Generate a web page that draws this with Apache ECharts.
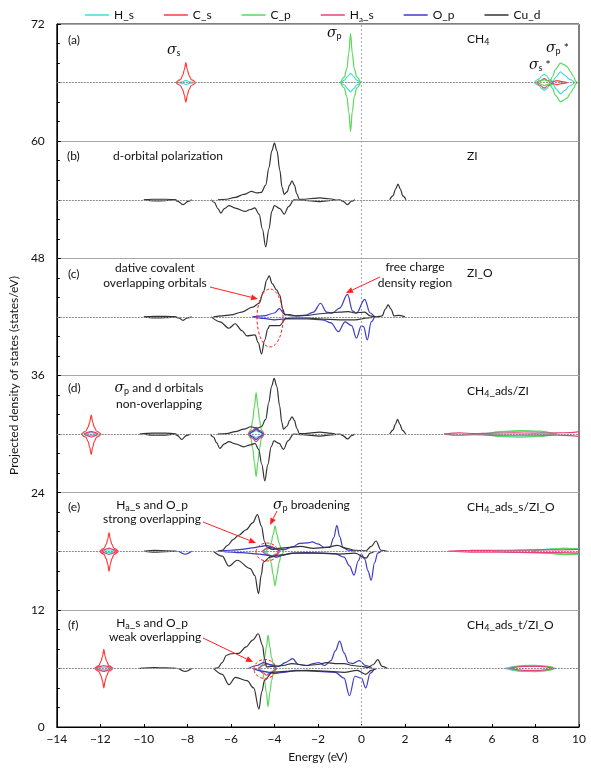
<!DOCTYPE html>
<html><head><meta charset="utf-8">
<script src="https://cdn.jsdelivr.net/npm/echarts@6/dist/echarts.min.js"></script>
<style>html,body{margin:0;padding:0;background:#fff}#c{width:591px;height:768px}</style>
</head><body><div id="c"></div>
<script>
// ---------- axis / labels ----------
const xTicks = [-14,-12,-10,-8,-6,-4,-2,0,2,4,6,8,10];
const yTicks = [0,12,24,36,48,60,72];
const orbitals = ['H_s','C_s','C_p','Ha_s','O_p','Cu_d'];
const panelOffsets = [66,54,42,30,18,6];

// ---------- panel (a) CH4 ----------
const a_Hs_up = [[-8.4,0],[-8.22,0.08],[-8.07,0.22],[-7.92,0.08],[-7.74,0],null,
 [-0.95,0],[-0.78,0.25],[-0.63,0.65],[-0.5,0.95],[-0.37,0.65],[-0.22,0.25],[-0.05,0],null,
 [7.95,0],[8.15,0.35],[8.3,0.7],[8.4,0.86],[8.5,0.7],[8.65,0.3],[8.8,0.15],[8.95,0.6],[9.15,1.1],[9.35,0.75],[9.55,0.35],[9.8,0]];
const a_Hs_dn = [[-8.4,0],[-8.22,-0.08],[-8.07,-0.22],[-7.92,-0.08],[-7.74,0],null,
 [-0.95,0],[-0.78,-0.25],[-0.63,-0.65],[-0.5,-0.95],[-0.37,-0.65],[-0.22,-0.25],[-0.05,0],null,
 [7.95,0],[8.15,-0.3],[8.3,-0.65],[8.4,-0.8],[8.5,-0.65],[8.65,-0.3],[8.8,-0.15],[8.95,-0.65],[9.15,-1.15],[9.35,-0.8],[9.55,-0.35],[9.8,0]];
const a_Cs_up = [[-8.52,0],[-8.32,0.3],[-8.21,0.76],[-8.14,1.31],[-8.07,2.05],[-8.0,1.31],[-7.93,0.76],[-7.82,0.3],[-7.62,0],null,
 [8.05,0],[8.22,0.2],[8.4,0.4],[8.58,0.2],[8.75,0.08],[9.0,0.2],[9.2,0.1],[9.45,0]];
const a_Cs_dn = [[-8.52,0],[-8.32,-0.3],[-8.21,-0.74],[-8.14,-1.28],[-8.07,-2.0],[-8.0,-1.28],[-7.93,-0.74],[-7.82,-0.3],[-7.62,0],null,
 [8.05,0],[8.22,-0.3],[8.4,-0.57],[8.58,-0.3],[8.75,-0.08],[9.0,-0.2],[9.2,-0.1],[9.45,0]];
const a_Cp_up = [[-0.96,0],[-0.79,0.55],[-0.67,1.45],[-0.58,3.0],[-0.5,5.05],[-0.42,3.0],[-0.33,1.45],[-0.21,0.55],[-0.04,0],null,
 [8.1,0],[8.28,0.2],[8.4,0.3],[8.52,0.2],[8.65,0.1],[8.78,0.6],[8.92,1.35],[9.15,2.0],[9.3,1.85],[9.45,1.64],[9.6,1.13],[9.75,0.6],[9.86,0.1],[9.92,0]];
const a_Cp_dn = [[-0.96,0],[-0.79,-0.55],[-0.67,-1.45],[-0.58,-3.0],[-0.5,-5.0],[-0.42,-3.0],[-0.33,-1.45],[-0.21,-0.55],[-0.04,0],null,
 [8.1,0],[8.28,-0.2],[8.4,-0.3],[8.52,-0.2],[8.65,-0.1],[8.78,-0.6],[8.92,-1.3],[9.15,-1.95],[9.3,-1.8],[9.45,-1.6],[9.6,-1.1],[9.75,-0.6],[9.86,-0.1],[9.92,0]];

// ---------- panel (b) ZI ----------
const b_Cud_up = [[-10.0,0],[-9.6,0.05],[-9.0,0.05],[-8.5,0],null,
 [-6.6,0],[-6.2,0.05],[-5.8,0.25],[-5.4,0.55],[-5.05,0.85],[-4.8,0.7],[-4.6,0.75],[-4.4,1.5],[-4.25,3.3],[-4.12,5.0],[-4.0,5.8],[-3.88,5.0],[-3.75,3.0],[-3.65,1.3],[-3.55,0.55],[-3.42,0.8],[-3.3,1.5],[-3.19,1.94],[-3.08,1.5],[-2.97,0.6],[-2.85,0.05],[-2.6,0.05],[-2.2,0.15],[-1.9,0.2],[-1.5,0.1],[-1.2,0],null,
 [1.3,0],[1.45,0.4],[1.57,1.1],[1.68,1.6],[1.79,1.1],[1.9,0.4],[2.05,0]];
const b_Cud_dn = [[-10.0,0],[-9.5,-0.12],[-9.0,-0.1],[-8.6,0],[-8.45,-0.15],[-8.2,-0.5],[-7.95,-0.15],[-7.8,0],null,
 [-6.9,0],[-6.75,-0.3],[-6.6,-0.9],[-6.46,-1.36],[-6.3,-0.9],[-6.09,-0.6],[-5.8,-0.85],[-5.35,-1.2],[-5.1,-1.0],[-4.9,-0.83],[-4.7,-1.5],[-4.55,-3.0],[-4.4,-4.84],[-4.25,-3.0],[-4.12,-1.2],[-4.0,-0.6],[-3.75,-0.9],[-3.55,-1.47],[-3.35,-0.7],[-3.1,0],[-2.7,-0.05],[-2.2,-0.15],[-1.9,-0.2],[-1.5,-0.1],[-1.0,0],[-0.85,-0.15],[-0.64,-0.5],[-0.45,-0.15],[-0.3,0]];

// ---------- panel (c) ZI_O ----------
const c_Cud_up = [[-10.0,0],[-9.5,0.05],[-9.0,0.05],[-8.5,0],null,
 [-6.8,0],[-6.4,0.1],[-6.0,0.2],[-5.5,0.5],[-5.0,1.0],[-4.7,1.4],[-4.5,2.6],[-4.35,3.8],[-4.24,4.2],[-4.1,3.4],[-3.9,2.76],[-3.75,2.2],[-3.62,0.8],[-3.52,0.2],[-3.3,0.25],[-3.0,0.1],[-2.5,0.15],[-2.0,0.3],[-1.5,0.4],[-1.0,0.5],[-0.6,0.55],[-0.3,0.4],[0.15,0.5],[0.4,0.1],[0.7,0],[0.95,0.1],[1.1,0.8],[1.23,1.23],[1.36,0.8],[1.5,0.1],[1.7,0.15],[2.0,0]];
const c_Cud_dn = [[-10.0,0],[-9.5,-0.1],[-9.0,-0.08],[-8.6,0],[-8.4,-0.1],[-8.2,-0.35],[-8.0,-0.1],[-7.8,0],null,
 [-6.9,0],[-6.5,-0.5],[-6.09,-1.16],[-5.8,-0.7],[-5.5,-1.4],[-5.26,-1.94],[-4.89,-1.84],[-4.75,-2.6],[-4.59,-3.8],[-4.45,-2.4],[-4.3,-1.2],[-4.22,-0.9],[-3.77,-0.9],[-3.46,-0.15],[-3.0,-0.1],[-2.5,-0.1],[-2.0,-0.2],[-1.0,-0.3],[-0.3,-0.3],[0.3,-0.1],[0.6,0]];
const c_Op_up = [[-5.0,0],[-4.5,0.1],[-4.0,0.4],[-3.77,0.85],[-3.55,0.3],[-3.2,0.1],[-2.6,0.15],[-2.2,0.5],[-1.88,1.4],[-1.6,0.5],[-1.35,0.38],[-1.0,0.9],[-0.64,2.3],[-0.4,0.6],[-0.23,0.38],[0.15,1.8],[0.4,0.4],[0.6,0]];
const c_Op_dn = [[-5.0,0],[-4.5,-0.15],[-4.0,-0.3],[-3.5,-0.2],[-2.5,-0.2],[-1.8,-0.3],[-1.4,-0.6],[-1.06,-1.5],[-0.75,-0.5],[-0.45,-0.9],[-0.23,-2.18],[0.0,-0.9],[0.1,-1.0],[0.27,-2.35],[0.45,-0.5],[0.6,0]];

// ---------- panel (d) CH4_ads/ZI ----------
const d_Hs_up = [[-12.75,0],[-12.55,0.1],[-12.42,0.15],[-12.29,0.1],[-12.1,0],null,
 [-5.15,0],[-5.0,0.2],[-4.84,0.35],[-4.68,0.2],[-4.5,0],null,
 [5.6,0],[6.3,0.2],[7.2,0.3],[8.0,0.25],[8.6,0.1],[9.0,0]];
const d_Hs_dn = [[-12.75,0],[-12.55,-0.1],[-12.42,-0.15],[-12.29,-0.1],[-12.1,0],null,
 [-5.15,0],[-5.0,-0.2],[-4.84,-0.35],[-4.68,-0.2],[-4.5,0],null,
 [5.6,0],[6.3,-0.2],[7.2,-0.3],[8.0,-0.25],[8.6,-0.1],[9.0,0]];
const d_Cs_up = [[-12.87,0],[-12.67,0.29],[-12.56,0.72],[-12.49,1.24],[-12.42,1.94],[-12.35,1.24],[-12.28,0.72],[-12.17,0.29],[-11.97,0]];
const d_Cs_dn = [[-12.87,0],[-12.67,-0.31],[-12.56,-0.77],[-12.49,-1.33],[-12.42,-2.08],[-12.35,-1.33],[-12.28,-0.77],[-12.17,-0.31],[-11.97,0]];
const d_Cp_up = [[-5.2,0],[-5.08,0.45],[-5.0,1.4],[-4.92,2.8],[-4.84,4.26],[-4.76,2.8],[-4.68,1.4],[-4.6,0.45],[-4.48,0],null,
 [5.8,0],[6.4,0.25],[7.3,0.35],[8.2,0.3],[8.9,0]];
const d_Cp_dn = [[-5.2,0],[-5.08,-0.45],[-5.0,-1.45],[-4.92,-2.9],[-4.84,-4.36],[-4.76,-2.9],[-4.68,-1.45],[-4.6,-0.45],[-4.48,0],null,
 [5.8,0],[6.4,-0.25],[7.3,-0.3],[8.2,-0.25],[8.9,0]];
const d_Has_up = [[-12.75,0],[-12.58,0.18],[-12.42,0.28],[-12.26,0.18],[-12.1,0],null,
 [-5.2,0],[-5.02,0.35],[-4.84,0.68],[-4.66,0.35],[-4.48,0],null,
 [3.8,0],[4.5,0.12],[5.2,0.05],[6.0,0.1],[7.0,0.12],[8.0,0.1],[9.0,0.12],[9.6,0.15],[10.0,0.25]];
const d_Has_dn = [[-12.75,0],[-12.58,-0.18],[-12.42,-0.3],[-12.26,-0.18],[-12.1,0],null,
 [-5.2,0],[-5.02,-0.4],[-4.84,-0.78],[-4.66,-0.4],[-4.48,0],null,
 [3.8,0],[4.5,-0.12],[5.2,-0.05],[6.0,-0.1],[7.0,-0.12],[8.0,-0.1],[9.0,-0.12],[9.6,-0.15],[10.0,-0.25]];
const d_Op_up = [[-5.15,0],[-5.0,0.25],[-4.84,0.5],[-4.68,0.25],[-4.52,0]];
const d_Op_dn = [[-5.15,0],[-5.0,-0.28],[-4.84,-0.55],[-4.68,-0.28],[-4.52,0]];
const d_Cud_up = [[-10.2,0],[-9.6,0.1],[-9.0,0.1],[-8.5,0],null,
 [-6.6,0],[-6.2,0.05],[-5.8,0.25],[-5.4,0.5],[-5.08,0.75],[-4.8,0.6],[-4.6,0.75],[-4.4,1.5],[-4.26,3.2],[-4.13,4.9],[-4.01,5.7],[-3.89,4.9],[-3.76,2.9],[-3.66,1.2],[-3.58,0.5],[-3.42,0.8],[-3.3,1.4],[-3.19,1.77],[-3.08,1.4],[-2.97,0.6],[-2.85,0.05],[-2.6,0.05],[-2.2,0.15],[-1.9,0.2],[-1.5,0.1],[-1.2,0],null,
 [1.3,0],[1.45,0.4],[1.56,1.0],[1.66,1.5],[1.77,1.0],[1.88,0.4],[2.03,0]];
const d_Cud_dn = [[-10.0,0],[-9.5,-0.12],[-9.0,-0.1],[-8.6,0],[-8.45,-0.15],[-8.26,-0.55],[-8.05,-0.15],[-7.85,0],null,
 [-6.95,0],[-6.8,-0.3],[-6.65,-0.9],[-6.51,-1.46],[-6.3,-1.0],[-6.09,-0.78],[-5.8,-1.0],[-5.41,-1.3],[-5.1,-1.1],[-4.89,-0.95],[-4.72,-1.6],[-4.58,-3.1],[-4.44,-4.8],[-4.3,-3.1],[-4.15,-1.3],[-4.02,-0.7],[-3.78,-0.95],[-3.58,-1.57],[-3.38,-0.7],[-3.12,0],[-2.7,-0.05],[-2.2,-0.15],[-1.9,-0.2],[-1.5,-0.1],[-1.0,0],[-0.85,-0.15],[-0.64,-0.5],[-0.45,-0.15],[-0.3,0]];

// ---------- panel (e) CH4_ads_s/ZI_O ----------
const e_Hs_up = [[-11.9,0],[-11.75,0.1],[-11.6,0.15],[-11.45,0.1],[-11.3,0],null,
 [-4.5,0],[-4.3,0.3],[-4.12,0.45],[-3.95,0.3],[-3.75,0],null,
 [6.0,0],[7.5,0.1],[8.5,0.2],[9.3,0.3],[10.0,0.2]];
const e_Hs_dn = [[-11.9,0],[-11.75,-0.1],[-11.6,-0.15],[-11.45,-0.1],[-11.3,0],null,
 [-4.5,0],[-4.3,-0.3],[-4.12,-0.45],[-3.95,-0.3],[-3.75,0],null,
 [6.0,0],[7.5,-0.1],[8.5,-0.2],[9.3,-0.3],[10.0,-0.25]];
const e_Cs_up = [[-12.02,0],[-11.83,0.29],[-11.73,0.7],[-11.66,1.22],[-11.6,1.9],[-11.54,1.22],[-11.47,0.7],[-11.37,0.29],[-11.18,0]];
const e_Cs_dn = [[-12.02,0],[-11.83,-0.31],[-11.73,-0.76],[-11.66,-1.31],[-11.6,-2.05],[-11.54,-1.31],[-11.47,-0.76],[-11.37,-0.31],[-11.18,0]];
const e_Cp_up = [[-4.37,0],[-4.25,0.3],[-4.15,0.85],[-4.06,1.7],[-3.97,2.59],[-3.88,1.7],[-3.79,0.85],[-3.69,0.3],[-3.57,0],null,
 [7.8,0],[8.6,0.2],[9.3,0.3],[10.0,0.25]];
const e_Cp_dn = [[-4.37,0],[-4.25,-0.4],[-4.15,-1.2],[-4.06,-2.4],[-3.97,-3.55],[-3.88,-2.4],[-3.79,-1.2],[-3.69,-0.4],[-3.57,0],null,
 [7.8,0],[8.6,-0.2],[9.3,-0.35],[10.0,-0.3]];
const e_Has_up = [[-11.95,0],[-11.78,0.2],[-11.6,0.32],[-11.42,0.2],[-11.25,0],null,
 [-4.55,0],[-4.35,0.3],[-4.15,0.5],[-3.95,0.3],[-3.75,0],null,
 [4.0,0],[5.0,0.08],[6.5,0.1],[8.0,0.15],[9.0,0.15],[10.0,0.2]];
const e_Has_dn = [[-11.95,0],[-11.78,-0.2],[-11.6,-0.32],[-11.42,-0.2],[-11.25,0],null,
 [-4.55,0],[-4.35,-0.35],[-4.15,-0.55],[-3.95,-0.35],[-3.75,0],null,
 [4.0,0],[5.0,-0.08],[6.5,-0.1],[8.0,-0.15],[9.0,-0.15],[10.0,-0.2]];
const e_Op_up = [[-6.6,0],[-6.0,0.1],[-5.5,0.2],[-5.0,0.35],[-4.6,0.5],[-4.35,0.6],[-4.1,0.35],[-3.8,0.15],[-3.5,0.2],[-3.16,0.45],[-2.85,0.8],[-2.48,0.85],[-2.26,0.95],[-2.0,0.75],[-1.7,0.4],[-1.45,0.4],[-1.27,1.4],[-1.13,2.66],[-1.0,1.5],[-0.85,0.4],[-0.6,0.1],[-0.3,0]];
const e_Op_dn = [[-8.4,0],[-8.1,-0.3],[-7.8,0],null,
 [-6.5,0],[-5.5,-0.15],[-4.7,-0.3],[-4.2,-0.45],[-3.9,-0.6],[-3.6,-0.4],[-3.2,-0.2],[-2.5,-0.15],[-1.8,-0.2],[-1.2,-0.25],[-0.8,-0.6],[-0.55,-1.5],[-0.34,-2.45],[-0.15,-1.0],[0.0,-0.3],[0.15,-0.8],[0.3,-2.0],[0.45,-2.97],[0.6,-1.2],[0.75,-0.2],[0.9,0]];
const e_Cud_up = [[-10.0,0],[-9.5,0.08],[-9.0,0.05],[-8.5,0],null,
 [-6.6,0],[-6.4,0.1],[-6.15,0.6],[-5.9,1.2],[-5.64,1.64],[-5.3,2.2],[-5.0,2.9],[-4.78,3.75],[-4.6,2.6],[-4.45,1.0],[-4.36,0.44],[-4.1,0.2],[-3.8,0.3],[-3.3,0.4],[-2.8,0.5],[-2.2,0.3],[-1.6,0.4],[-1.1,0.6],[-0.7,0.3],[-0.3,0.1],[0.2,0.05],[0.45,0.5],[0.67,1.05],[0.9,0.1],[1.2,0]];
const e_Cud_dn = [[-10.0,0],[-9.5,-0.1],[-9.0,-0.05],[-8.5,0],null,
 [-6.8,0],[-6.4,-0.5],[-6.09,-1.53],[-5.71,-0.92],[-5.11,-1.77],[-4.9,-2.5],[-4.73,-4.33],[-4.6,-2.4],[-4.51,-1.1],[-4.2,-0.6],[-3.8,-0.4],[-3.0,-0.2],[-2.0,-0.2],[-1.0,-0.3],[-0.3,-0.2],[0.22,-0.7],[0.4,-0.2],[0.6,0]];

// ---------- panel (f) CH4_ads_t/ZI_O ----------
const f_Hs_up = [[-12.15,0],[-12.0,0.1],[-11.84,0.15],[-11.68,0.1],[-11.5,0],null,
 [-4.7,0],[-4.5,0.3],[-4.3,0.42],[-4.1,0.3],[-3.9,0],null,
 [6.6,0],[7.2,0.25],[7.8,0.3],[8.4,0.25],[8.8,0]];
const f_Hs_dn = [[-12.15,0],[-12.0,-0.1],[-11.84,-0.15],[-11.68,-0.1],[-11.5,0],null,
 [-4.7,0],[-4.5,-0.3],[-4.3,-0.45],[-4.1,-0.3],[-3.9,0],null,
 [6.6,0],[7.2,-0.25],[7.8,-0.3],[8.4,-0.25],[8.8,0]];
const f_Cs_up = [[-12.26,0],[-12.07,0.29],[-11.97,0.72],[-11.9,1.24],[-11.84,1.94],[-11.78,1.24],[-11.71,0.72],[-11.61,0.29],[-11.42,0]];
const f_Cs_dn = [[-12.26,0],[-12.07,-0.3],[-11.97,-0.74],[-11.9,-1.28],[-11.84,-2.0],[-11.78,-1.28],[-11.71,-0.74],[-11.61,-0.3],[-11.42,0]];
const f_Cp_up = [[-4.66,0],[-4.54,0.4],[-4.45,1.1],[-4.37,2.2],[-4.29,3.4],[-4.21,2.2],[-4.13,1.1],[-4.04,0.4],[-3.92,0],null,
 [6.8,0],[7.4,0.3],[8.0,0.32],[8.6,0.2],[8.9,0]];
const f_Cp_dn = [[-4.66,0],[-4.54,-0.45],[-4.45,-1.25],[-4.37,-2.5],[-4.29,-3.9],[-4.21,-2.5],[-4.13,-1.25],[-4.04,-0.45],[-3.92,0],null,
 [6.8,0],[7.4,-0.3],[8.0,-0.32],[8.6,-0.2],[8.9,0]];
const f_Has_up = [[-12.2,0],[-12.02,0.2],[-11.84,0.3],[-11.66,0.2],[-11.5,0],null,
 [-4.75,0],[-4.55,0.3],[-4.35,0.5],[-4.15,0.3],[-3.95,0],null,
 [6.8,0],[7.5,0.2],[8.2,0.2],[8.8,0]];
const f_Has_dn = [[-12.2,0],[-12.02,-0.2],[-11.84,-0.3],[-11.66,-0.2],[-11.5,0],null,
 [-4.75,0],[-4.55,-0.4],[-4.35,-0.7],[-4.15,-0.4],[-3.95,0],null,
 [6.8,0],[7.5,-0.2],[8.2,-0.2],[8.8,0]];
const f_Op_up = [[-5.2,0],[-4.8,0.3],[-4.5,0.6],[-4.2,0.4],[-3.8,0.2],[-3.5,0.6],[-3.16,1.0],[-2.9,0.4],[-2.5,0.3],[-2.2,0.5],[-1.96,0.6],[-1.7,0.3],[-1.4,0.8],[-1.2,1.8],[-1.0,2.8],[-0.8,1.6],[-0.6,0.6],[-0.4,0.5],[-0.1,0.8],[0.2,0.3],[0.5,0]];
const f_Op_dn = [[-5.0,0],[-4.5,-0.3],[-4.0,-0.5],[-3.6,-0.4],[-3.0,-0.2],[-2.0,-0.3],[-1.2,-0.4],[-0.8,-1.0],[-0.55,-2.8],[-0.3,-0.8],[0.0,-1.0],[0.2,-2.0],[0.4,-0.5],[0.6,0]];
const f_Cud_up = [[-10.2,0],[-9.5,0.08],[-9.0,0.05],[-8.5,0],null,
 [-6.75,0],[-6.6,0.05],[-6.4,0.6],[-6.2,1.35],[-6.0,1.5],[-5.64,1.55],[-5.3,2.2],[-5.0,2.9],[-4.74,3.55],[-4.55,2.4],[-4.45,1.0],[-4.36,0.15],[-4.1,0.2],[-3.6,0.3],[-3.2,0.5],[-2.5,0.3],[-2.0,0.4],[-1.6,0.6],[-1.2,0.5],[-0.8,0.5],[-0.4,0.3],[0.0,0.2],[0.3,0.1],[0.55,0.4],[0.75,0.9],[0.95,0.2],[1.2,0]];
const f_Cud_dn = [[-8.4,0],[-8.1,-0.3],[-7.8,0],null,
 [-6.8,0],[-6.4,-0.6],[-6.09,-1.67],[-5.79,-0.92],[-5.26,-1.26],[-4.95,-2.0],[-4.71,-4.16],[-4.58,-2.4],[-4.45,-1.2],[-4.1,-0.4],[-3.5,-0.3],[-2.5,-0.2],[-1.5,-0.3],[-0.8,-0.4],[-0.2,-0.2],[0.2,-0.6],[0.45,-0.2],[0.7,0]];

// ---------- build ----------
const COLORS = {H_s:'#3fdcdc', C_s:'#ff3b3b', C_p:'#5cd65c', Ha_s:'#e8407a', O_p:'#3a3ac8', Cu_d:'#333333'};
const panels = [
 {H_s:[a_Hs_up,a_Hs_dn], C_s:[a_Cs_up,a_Cs_dn], C_p:[a_Cp_up,a_Cp_dn]},
 {Cu_d:[b_Cud_up,b_Cud_dn]},
 {O_p:[c_Op_up,c_Op_dn], Cu_d:[c_Cud_up,c_Cud_dn]},
 {H_s:[d_Hs_up,d_Hs_dn], C_s:[d_Cs_up,d_Cs_dn], C_p:[d_Cp_up,d_Cp_dn], Ha_s:[d_Has_up,d_Has_dn], O_p:[d_Op_up,d_Op_dn], Cu_d:[d_Cud_up,d_Cud_dn]},
 {H_s:[e_Hs_up,e_Hs_dn], C_s:[e_Cs_up,e_Cs_dn], C_p:[e_Cp_up,e_Cp_dn], Ha_s:[e_Has_up,e_Has_dn], O_p:[e_Op_up,e_Op_dn], Cu_d:[e_Cud_up,e_Cud_dn]},
 {H_s:[f_Hs_up,f_Hs_dn], C_s:[f_Cs_up,f_Cs_dn], C_p:[f_Cp_up,f_Cp_dn], Ha_s:[f_Has_up,f_Has_dn], O_p:[f_Op_up,f_Op_dn], Cu_d:[f_Cud_up,f_Cud_dn]}
];
function segments(arr){const out=[[]];arr.forEach(p=>{if(p===null)out.push([]);else out[out.length-1].push(p);});return out.filter(s=>s.length>1);}
const series = [];
orbitals.forEach(n=>series.push({type:'line',name:n,data:[],symbol:'none',showSymbol:false,color:COLORS[n],lineStyle:{width:1.2,color:COLORS[n]}}));
series.push({type:'line',name:'base',data:[],symbol:'none',silent:true,
  markLine:{silent:true,symbol:'none',label:{show:false},animation:false,
   lineStyle:{color:'#8a8a8a',type:[2,1],width:1},
   data:panelOffsets.map(o=>({yAxis:o}))}});
series.push({type:'line',name:'zero',data:[],symbol:'none',silent:true,
  markLine:{silent:true,symbol:'none',label:{show:false},animation:false,
   lineStyle:{color:'#a4a8cc',type:[2,2],width:1},
   data:[{xAxis:0}]}});
orbitals.forEach(n=>{
  panels.forEach((p,i)=>{
    if(!p[n])return;
    p[n].forEach(arr=>segments(arr).forEach(seg=>{
      series.push({type:'line',name:n,silent:true,symbol:'none',smooth:0.35,smoothMonotone:'x',
        color:COLORS[n],lineStyle:{width:1.2,color:COLORS[n]},z:3,
        data:seg.map(q=>[q[0],q[1]+panelOffsets[i]])});
    }));
  });
});

const FONT = 'Lato';
const rich = {
  n:{fontSize:12,fontFamily:FONT,color:'#111',lineHeight:16},
  s:{fontSize:9,fontFamily:FONT,color:'#111',lineHeight:9,verticalAlign:'bottom'},
  g:{fontSize:14,fontFamily:'DejaVu Serif',fontStyle:'italic',color:'#111',lineHeight:16}
};
function txt(x,y,text,align){return {type:'text',x:x,y:y,z:50,style:{text:text,rich:rich,align:align||'left',verticalAlign:'middle',fontSize:12,fontFamily:FONT,fill:'#111'}};}
function arrow(x1,y1,x2,y2){
  const dx=x2-x1,dy=y2-y1,L=Math.hypot(dx,dy),ux=dx/L,uy=dy/L,hl=7,hw=3;
  const bx=x2-ux*hl,by=y2-uy*hl;
  return [{type:'line',z:50,shape:{x1:x1,y1:y1,x2:bx,y2:by},style:{stroke:'#ff2020',lineWidth:1}},
    {type:'polygon',z:50,shape:{points:[[x2,y2],[bx-uy*hw,by+ux*hw],[bx+uy*hw,by-ux*hw]]},style:{fill:'#ff2020'}}];
}
function ell(cx,cy,rx,ry){return {type:'ellipse',z:50,shape:{cx:cx,cy:cy,rx:rx,ry:ry},style:{fill:null,stroke:'#ff2020',lineWidth:1,lineDash:[3,2]}};}

const graphics = [
  txt(68,40,'{n|(a)}'), txt(67,156,'{n|(b)}'), txt(68,274,'{n|(c)}'), txt(68,388,'{n|(d)}'), txt(68,507,'{n|(e)}'), txt(68,625,'{n|(f)}'),
  txt(467,39,'{n|CH}{s|4}'), txt(467,156,'{n|ZI}'), txt(467,273,'{n|ZI_O}'),
  txt(467,391,'{n|CH}{s|4}{n|_ads/ZI}'), txt(467,507,'{n|CH}{s|4}{n|_ads_s/ZI_O}'), txt(467,625,'{n|CH}{s|4}{n|_ads_t/ZI_O}'),
  txt(167,50,'{g|σ}{s|s}'), txt(327,33,'{g|σ}{s|p}'), txt(529,65,'{g|σ}{s|s}{n| *}'), txt(546,48,'{g|σ}{s|p}{n| *}'),
  txt(113,156,'{n|d-orbital polarization}'),
  txt(155,268,'{n|dative covalent}','center'), txt(155,283,'{n|overlapping orbitals}','center'),
  txt(415,267,'{n|free charge}','center'), txt(415,283,'{n|density region}','center'),
  txt(159,388,'{g|σ}{s|p}{n| and d orbitals}','center'), txt(159,404,'{n|non-overlapping}','center'),
  txt(152,505,'{n|H}{s|a}{n|_s and O_p}','center'), txt(152,519,'{n|strong overlapping}','center'),
  txt(273,505,'{g|σ}{s|p}{n| broadening}'),
  txt(152,623,'{n|H}{s|a}{n|_s and O_p}','center'), txt(155,637,'{n|weak overlapping}','center'),
  ...arrow(210,287,258,299), ...arrow(380,277,346,293), ...arrow(203,522,256,543), ...arrow(277,511,270,525), ...arrow(203,638,253,662),
  ell(270,318,13,29), ell(267,552,11,9), ell(265,669,11,9.5)
];

const chart = echarts.init(document.getElementById('c'));
chart.setOption({
  animation:false,
  backgroundColor:'#fff',
  grid:{left:46,right:12,top:24,bottom:40,show:true,borderColor:'#000',borderWidth:1,backgroundColor:'transparent'},
  legend:{data:orbitals.map(n=>({name:n,icon:'rect'})),top:4,left:80,itemWidth:24,itemHeight:1.5,itemGap:30,
    formatter:n=>n==='Ha_s'?'{n|H}{s|a}{n|_s}':'{n|'+n+'}',
    textStyle:{fontFamily:FONT,fontSize:12,color:'#111',rich:{n:{fontSize:12,fontFamily:FONT,lineHeight:16},s:{fontSize:8,fontFamily:FONT,lineHeight:8,verticalAlign:'bottom'}}}},
  xAxis:{type:'value',min:xTicks[0],max:xTicks[xTicks.length-1],interval:2,
    name:'Energy (eV)',nameLocation:'middle',nameGap:24,nameTextStyle:{fontFamily:FONT,fontSize:12,color:'#111'},
    axisLine:{onZero:false,lineStyle:{color:'#000'}},axisTick:{inside:true,length:3,lineStyle:{color:'#000'}},
    axisLabel:{fontFamily:FONT,fontSize:12,color:'#111',margin:6,formatter:v=>v<0?'\u2212'+Math.abs(v):String(v)},
    splitLine:{show:false}},
  yAxis:{type:'value',min:yTicks[0],max:yTicks[yTicks.length-1],interval:12,
    name:'Projected density of states (states/eV)',nameLocation:'middle',nameGap:34,nameTextStyle:{fontFamily:FONT,fontSize:12,color:'#111'},
    axisLine:{onZero:false,lineStyle:{color:'#000'}},axisTick:{inside:true,length:4,lineStyle:{color:'#000'}},
    minorTick:{show:true,splitNumber:6,length:3,lineStyle:{color:'#000'}},
    axisLabel:{fontFamily:FONT,fontSize:12,color:'#111',margin:12},
    splitLine:{show:true,lineStyle:{color:'#a8a8a8',width:1}}},
  graphic:graphics,
  series:series
});
</script></body></html>
